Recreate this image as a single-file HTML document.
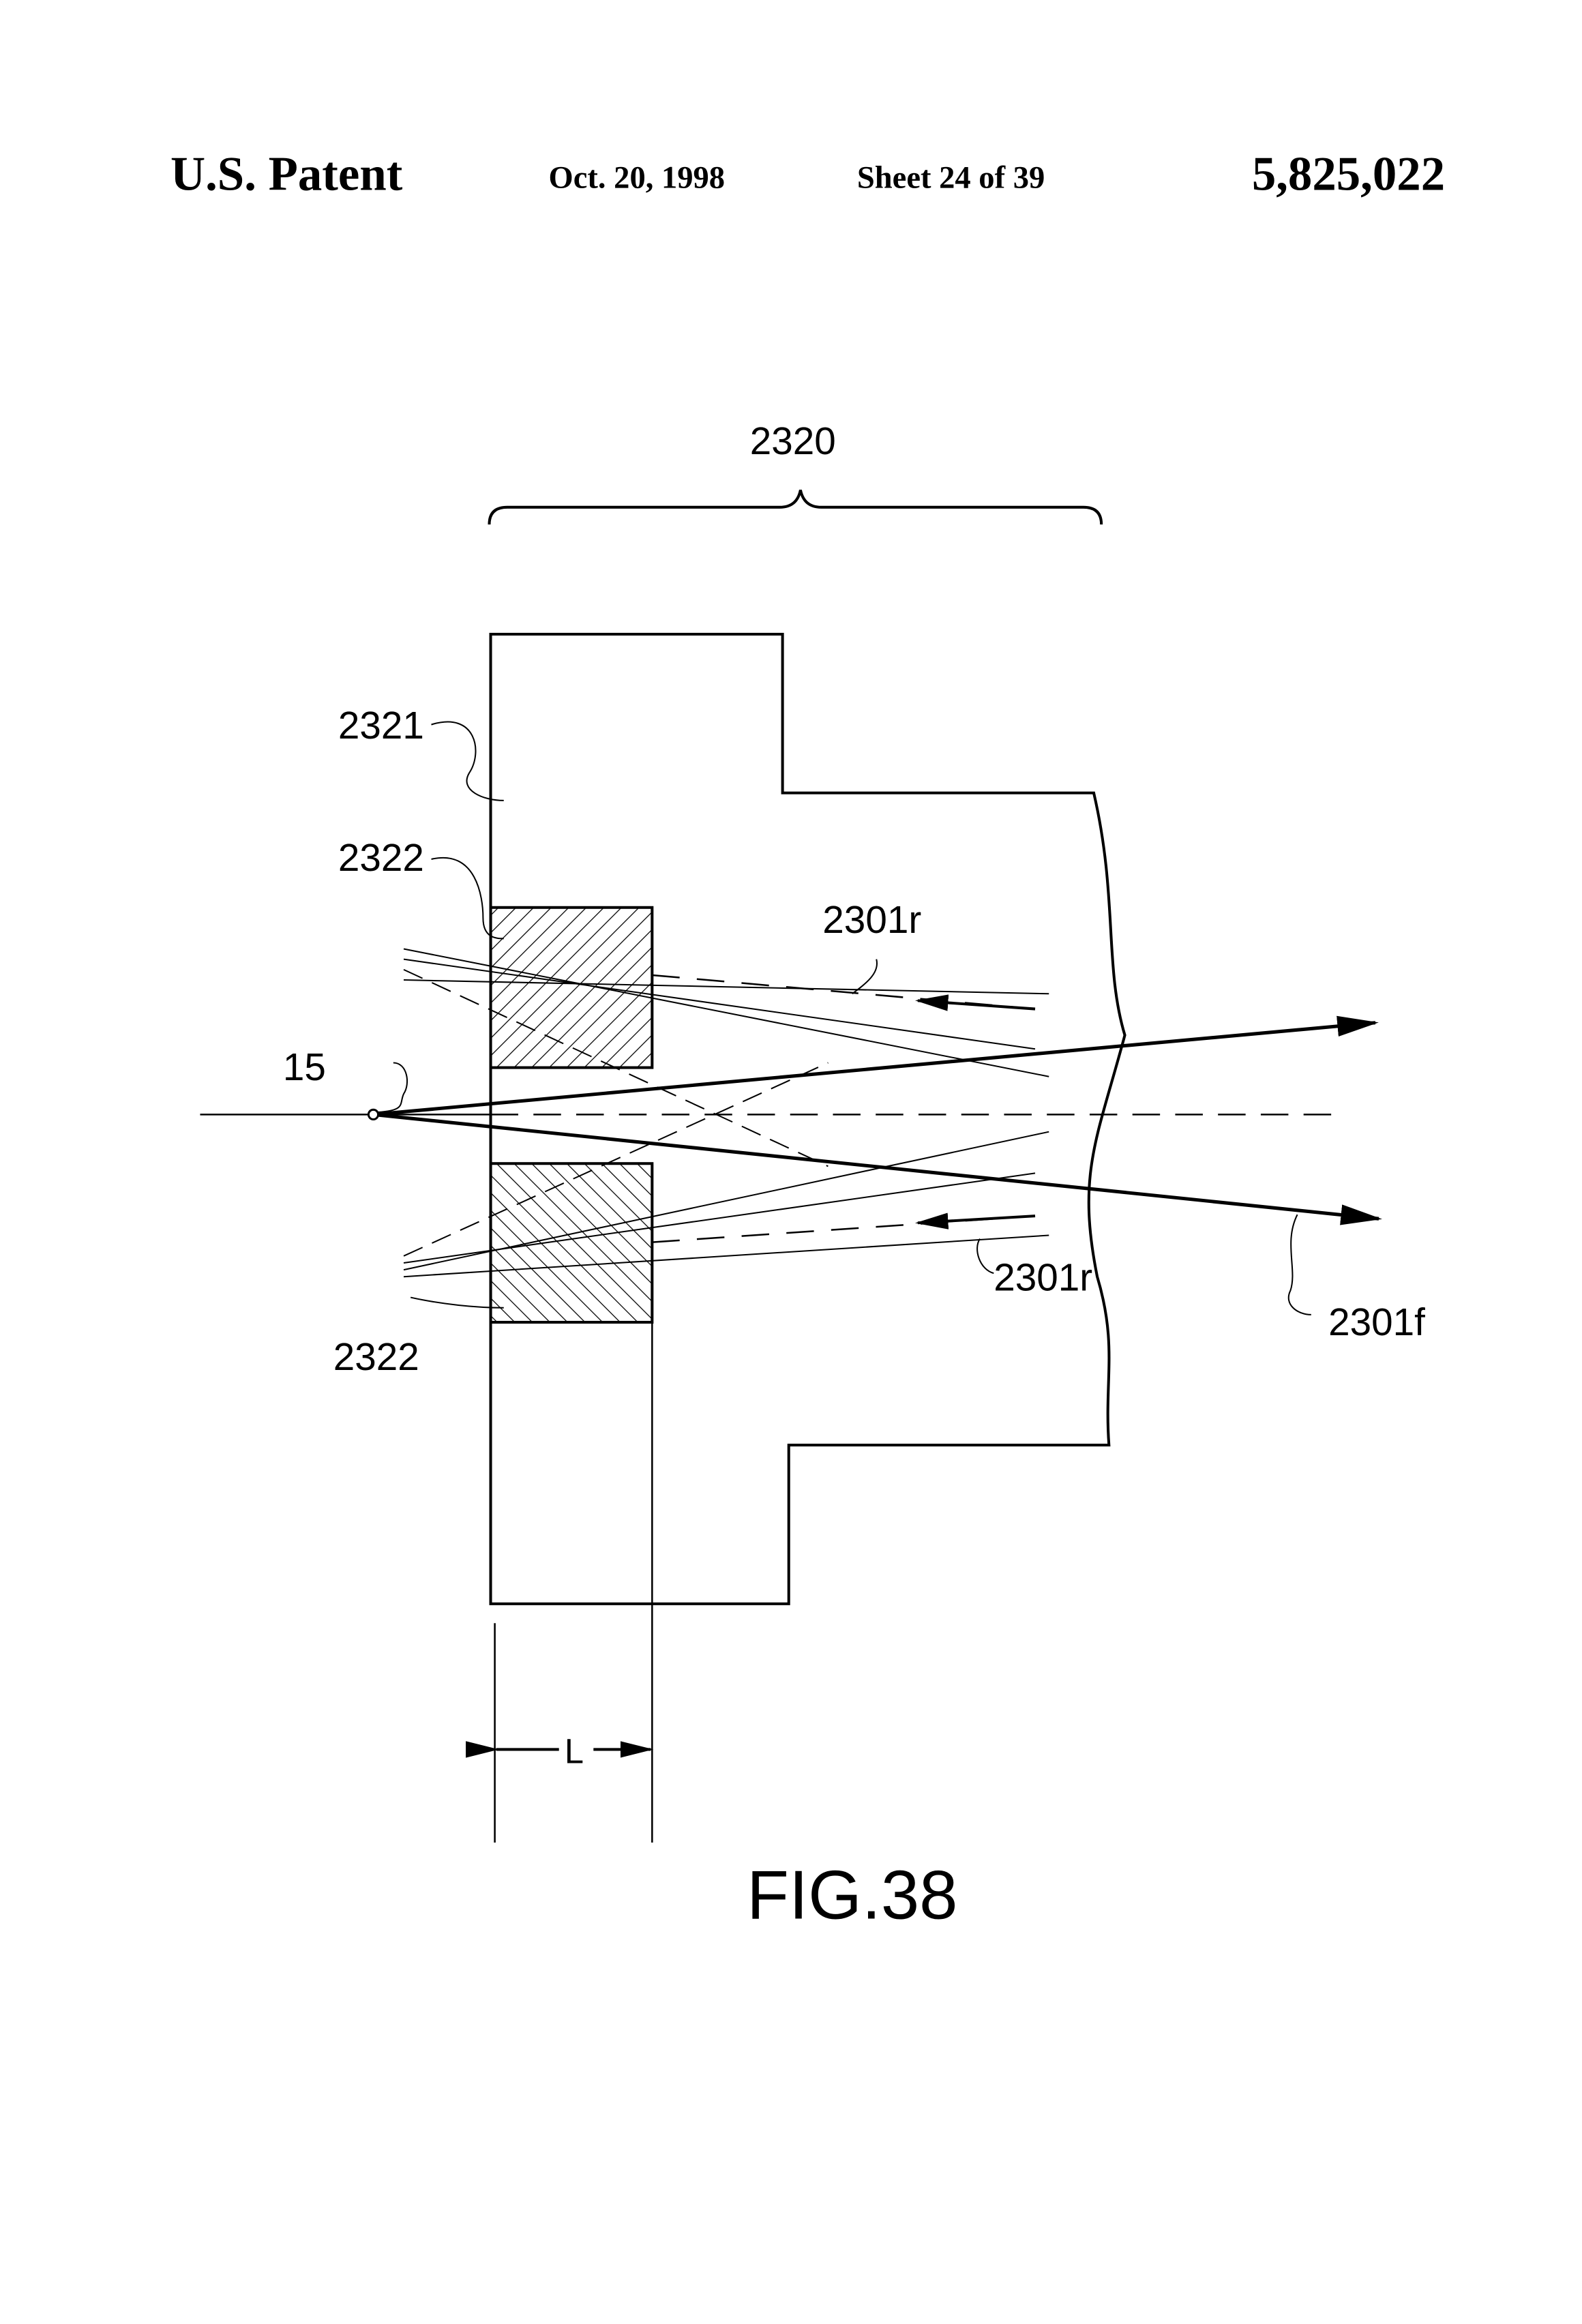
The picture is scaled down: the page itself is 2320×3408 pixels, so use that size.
<!DOCTYPE html>
<html><head><style>html,body{margin:0;padding:0;background:#fff}svg{display:block}</style></head>
<body>
<svg width="2320" height="3408" viewBox="0 0 2320 3408" xmlns="http://www.w3.org/2000/svg">
<defs>
<pattern id="h1" width="18" height="18" patternUnits="userSpaceOnUse" patternTransform="rotate(45)"><line x1="0" y1="0" x2="0" y2="18" stroke="#000" stroke-width="2.5"/></pattern>
<pattern id="h2" width="18" height="18" patternUnits="userSpaceOnUse" patternTransform="rotate(-45)"><line x1="0" y1="0" x2="0" y2="18" stroke="#000" stroke-width="2.5"/></pattern>
<marker id="ar" markerWidth="12" markerHeight="8" refX="11" refY="4" orient="auto" markerUnits="strokeWidth"><path d="M0,1 L12,4 L0,7 Z" fill="#000"/></marker>
</defs>
<g transform="scale(1.012)">
<g font-family="'Liberation Serif',serif" font-weight="bold" fill="#000">
<text x="247" y="275" font-size="70">U.S. Patent</text>
<text x="795" y="272" font-size="46">Oct. 20, 1998</text>
<text x="1242" y="272" font-size="46">Sheet 24 of 39</text>
<text x="2094" y="275" font-size="70" text-anchor="end">5,825,022</text>
</g>
<g fill="none" stroke="#000" stroke-width="4">
<path d="M709,760 Q709,735 735,735 L1130,735 Q1155,735 1160,710 Q1165,735 1190,735 L1570,735 Q1596,735 1596,760"/>
<path d="M711,2324 L711,919 L1134,919 L1134,1149 L1585,1149 C1620,1300 1600,1400 1630,1500 C1590,1650 1560,1700 1590,1850 C1620,1950 1600,2000 1607,2094 L1143,2094 L1143,2324 Z"/>
<rect x="711" y="1315" width="234" height="232" fill="url(#h1)"/>
<rect x="711" y="1686" width="234" height="230" fill="url(#h2)"/>
</g>
<g stroke="#000" stroke-width="2.5" fill="none">
<line x1="945" y1="1916" x2="945" y2="2670"/>
<line x1="717" y1="2352" x2="717" y2="2670"/>
<line x1="290" y1="1615" x2="711" y2="1615"/>
<line x1="711" y1="1615" x2="1944" y2="1615" stroke-dasharray="40,22"/>
<line x1="719" y1="2535" x2="810" y2="2535" marker-start="url(#ar)" stroke-width="4"/>
<line x1="860" y1="2535" x2="943" y2="2535" marker-end="url(#ar)" stroke-width="4"/>
<line x1="541" y1="1615" x2="1993" y2="1482" stroke-width="5" marker-end="url(#ar)"/>
<line x1="541" y1="1615" x2="1998" y2="1766" stroke-width="5" marker-end="url(#ar)"/>
<line x1="945" y1="1413" x2="1500" y2="1462" stroke-dasharray="40,25"/>
<line x1="1500" y1="1462" x2="1330" y2="1450" marker-end="url(#ar)" stroke-width="4"/>
<line x1="945" y1="1800" x2="1500" y2="1762" stroke-dasharray="40,25"/>
<line x1="1500" y1="1762" x2="1330" y2="1772" marker-end="url(#ar)" stroke-width="4"/>
<g stroke-width="2">
<line x1="585" y1="1375" x2="1520" y2="1560"/>
<line x1="585" y1="1390" x2="1500" y2="1520"/>
<line x1="585" y1="1405" x2="1200" y2="1690" stroke-dasharray="30,15"/>
<line x1="585" y1="1420" x2="1520" y2="1440"/>
<line x1="585" y1="1840" x2="1520" y2="1640"/>
<line x1="585" y1="1830" x2="1500" y2="1700"/>
<line x1="585" y1="1820" x2="1200" y2="1540" stroke-dasharray="30,15"/>
<line x1="585" y1="1850" x2="1520" y2="1790"/>
<path d="M625,1050 C690,1030 700,1090 680,1120 C665,1145 700,1160 730,1160"/>
<path d="M625,1245 C690,1230 700,1300 700,1330 C700,1360 720,1360 730,1360"/>
<path d="M570,1540 C590,1540 595,1570 585,1585 C578,1600 590,1610 541,1612"/>
<path d="M1270,1390 C1275,1410 1255,1425 1235,1440"/>
<path d="M1420,1795 C1410,1810 1420,1840 1440,1845"/>
<path d="M1880,1760 C1860,1800 1880,1840 1870,1870 C1860,1890 1880,1905 1900,1905"/>
<path d="M595,1880 C640,1890 690,1895 730,1895"/>
</g>
<circle cx="541" cy="1615" r="7" fill="#fff" stroke-width="3"/>
</g>
<g font-family="'Liberation Sans',sans-serif" font-size="56" fill="#000">
<text x="1149" y="658" text-anchor="middle">2320</text>
<text x="490" y="1070">2321</text>
<text x="490" y="1262">2322</text>
<text x="410" y="1565">15</text>
<text x="1192" y="1352">2301r</text>
<text x="1440" y="1870">2301r</text>
<text x="1925" y="1935">2301f</text>
<text x="483" y="1985">2322</text>
<text x="818" y="2555" font-size="50">L</text>
<text x="1235" y="2780" font-size="100" text-anchor="middle">FIG.38</text>
</g>
</g>
</svg>
</body></html>
